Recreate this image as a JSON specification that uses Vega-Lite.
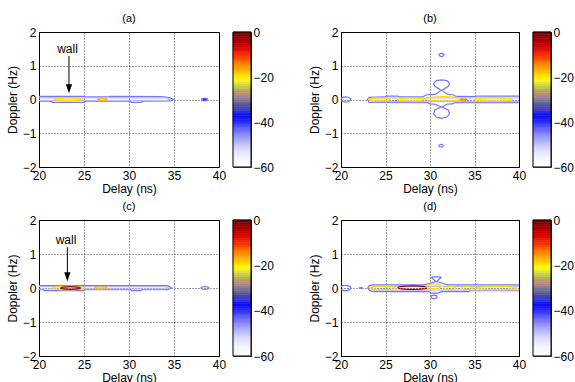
{
"$schema":"https://vega.github.io/schema/vega-lite/v6.json",
"padding":{"left":5,"top":12,"right":0,"bottom":0},
"background":"white",
"config":{
 "font":"Liberation Sans",
 "view":{"stroke":"#000","strokeWidth":1},
 "axis":{"labelFont":"Liberation Sans","labelFontSize":12,"labelColor":"#000","titleFont":"Liberation Sans","titleFontSize":12,"titleFontWeight":"normal","titleColor":"#000","domain":false,"ticks":false,"labelFlush":false,"grid":true,"gridColor":"#000","gridDash":[1,2],"gridOpacity":0.75,"labelPadding":3,"titlePadding":3},
 "axisX":{"titlePadding":2},
 "title":{"font":"Liberation Sans","fontSize":11,"fontWeight":"normal","color":"#000","offset":2}
},
"datasets":{
"ct":[
{"p":"a","id":"a1","k":"b","lv":-44,"i":0,"x":19.5,"y":0.09},
{"p":"a","id":"a1","k":"b","lv":-44,"i":1,"x":25.0,"y":0.09},
{"p":"a","id":"a1","k":"b","lv":-44,"i":2,"x":25.3,"y":0.075},
{"p":"a","id":"a1","k":"b","lv":-44,"i":3,"x":27.6,"y":0.075},
{"p":"a","id":"a1","k":"b","lv":-44,"i":4,"x":27.9,"y":0.09},
{"p":"a","id":"a1","k":"b","lv":-44,"i":5,"x":33.6,"y":0.085},
{"p":"a","id":"a1","k":"b","lv":-44,"i":6,"x":34.6,"y":0.05},
{"p":"a","id":"a1","k":"b","lv":-44,"i":7,"x":34.95,"y":0},
{"p":"a","id":"a1","k":"b","lv":-44,"i":8,"x":34.6,"y":-0.045},
{"p":"a","id":"a1","k":"b","lv":-44,"i":9,"x":31.5,"y":-0.05},
{"p":"a","id":"a1","k":"b","lv":-44,"i":10,"x":31.3,"y":-0.085},
{"p":"a","id":"a1","k":"b","lv":-44,"i":11,"x":30.3,"y":-0.085},
{"p":"a","id":"a1","k":"b","lv":-44,"i":12,"x":30.1,"y":-0.05},
{"p":"a","id":"a1","k":"b","lv":-44,"i":13,"x":25.2,"y":-0.05},
{"p":"a","id":"a1","k":"b","lv":-44,"i":14,"x":25.0,"y":-0.085},
{"p":"a","id":"a1","k":"b","lv":-44,"i":15,"x":21.5,"y":-0.085},
{"p":"a","id":"a1","k":"b","lv":-44,"i":16,"x":21.3,"y":-0.05},
{"p":"a","id":"a1","k":"b","lv":-44,"i":17,"x":19.5,"y":-0.05},
{"p":"a","id":"a2","k":"b","lv":-49,"i":0,"x":19.5,"y":0.05},
{"p":"a","id":"a2","k":"b","lv":-49,"i":1,"x":34.2,"y":0.045},
{"p":"a","id":"a2","k":"b","lv":-49,"i":2,"x":34.6,"y":0},
{"p":"a","id":"a2","k":"b","lv":-49,"i":3,"x":34.2,"y":-0.03},
{"p":"a","id":"a2","k":"b","lv":-49,"i":4,"x":19.5,"y":-0.03},
{"p":"a","id":"a3","k":"e","lv":-19,"i":0,"x":24.8,"y":0},
{"p":"a","id":"a3","k":"e","lv":-19,"i":1,"x":24.335,"y":0.028},
{"p":"a","id":"a3","k":"e","lv":-19,"i":2,"x":23.25,"y":0.04},
{"p":"a","id":"a3","k":"e","lv":-19,"i":3,"x":22.165,"y":0.028},
{"p":"a","id":"a3","k":"e","lv":-19,"i":4,"x":21.7,"y":0},
{"p":"a","id":"a3","k":"e","lv":-19,"i":5,"x":22.165,"y":-0.028},
{"p":"a","id":"a3","k":"e","lv":-19,"i":6,"x":23.25,"y":-0.04},
{"p":"a","id":"a3","k":"e","lv":-19,"i":7,"x":24.335,"y":-0.028},
{"p":"a","id":"a4","k":"e","lv":-17,"i":0,"x":27.6,"y":0},
{"p":"a","id":"a4","k":"e","lv":-17,"i":1,"x":27.435,"y":0.021},
{"p":"a","id":"a4","k":"e","lv":-17,"i":2,"x":27.05,"y":0.03},
{"p":"a","id":"a4","k":"e","lv":-17,"i":3,"x":26.665,"y":0.021},
{"p":"a","id":"a4","k":"e","lv":-17,"i":4,"x":26.5,"y":0},
{"p":"a","id":"a4","k":"e","lv":-17,"i":5,"x":26.665,"y":-0.021},
{"p":"a","id":"a4","k":"e","lv":-17,"i":6,"x":27.05,"y":-0.03},
{"p":"a","id":"a4","k":"e","lv":-17,"i":7,"x":27.435,"y":-0.021},
{"p":"a","id":"a5","k":"e","lv":-44,"i":0,"x":38.75,"y":0},
{"p":"a","id":"a5","k":"e","lv":-44,"i":1,"x":38.645,"y":0.025},
{"p":"a","id":"a5","k":"e","lv":-44,"i":2,"x":38.4,"y":0.035},
{"p":"a","id":"a5","k":"e","lv":-44,"i":3,"x":38.155,"y":0.025},
{"p":"a","id":"a5","k":"e","lv":-44,"i":4,"x":38.05,"y":0},
{"p":"a","id":"a5","k":"e","lv":-44,"i":5,"x":38.155,"y":-0.025},
{"p":"a","id":"a5","k":"e","lv":-44,"i":6,"x":38.4,"y":-0.035},
{"p":"a","id":"a5","k":"e","lv":-44,"i":7,"x":38.645,"y":-0.025},
{"p":"a","id":"a6","k":"e","lv":-40,"i":0,"x":38.55,"y":0},
{"p":"a","id":"a6","k":"e","lv":-40,"i":1,"x":38.505,"y":0.011},
{"p":"a","id":"a6","k":"e","lv":-40,"i":2,"x":38.4,"y":0.015},
{"p":"a","id":"a6","k":"e","lv":-40,"i":3,"x":38.295,"y":0.011},
{"p":"a","id":"a6","k":"e","lv":-40,"i":4,"x":38.25,"y":0},
{"p":"a","id":"a6","k":"e","lv":-40,"i":5,"x":38.295,"y":-0.011},
{"p":"a","id":"a6","k":"e","lv":-40,"i":6,"x":38.4,"y":-0.015},
{"p":"a","id":"a6","k":"e","lv":-40,"i":7,"x":38.505,"y":-0.011},

{"p":"c","id":"c1","k":"b","lv":-44,"i":0,"x":19.5,"y":0.07},
{"p":"c","id":"c1","k":"b","lv":-44,"i":1,"x":34.3,"y":0.07},
{"p":"c","id":"c1","k":"b","lv":-44,"i":2,"x":34.75,"y":0},
{"p":"c","id":"c1","k":"b","lv":-44,"i":3,"x":34.3,"y":-0.05},
{"p":"c","id":"c1","k":"b","lv":-44,"i":4,"x":31.4,"y":-0.05},
{"p":"c","id":"c1","k":"b","lv":-44,"i":5,"x":31.3,"y":-0.08},
{"p":"c","id":"c1","k":"b","lv":-44,"i":6,"x":30.3,"y":-0.08},
{"p":"c","id":"c1","k":"b","lv":-44,"i":7,"x":30.2,"y":-0.05},
{"p":"c","id":"c1","k":"b","lv":-44,"i":8,"x":25.0,"y":-0.05},
{"p":"c","id":"c1","k":"b","lv":-44,"i":9,"x":24.9,"y":-0.08},
{"p":"c","id":"c1","k":"b","lv":-44,"i":10,"x":20.6,"y":-0.08},
{"p":"c","id":"c1","k":"b","lv":-44,"i":11,"x":20.5,"y":-0.05},
{"p":"c","id":"c1","k":"b","lv":-44,"i":12,"x":19.5,"y":-0.05},
{"p":"c","id":"c2","k":"b","lv":-49,"i":0,"x":19.5,"y":0.04},
{"p":"c","id":"c2","k":"b","lv":-49,"i":1,"x":34.0,"y":0.04},
{"p":"c","id":"c2","k":"b","lv":-49,"i":2,"x":34.4,"y":0},
{"p":"c","id":"c2","k":"b","lv":-49,"i":3,"x":34.0,"y":-0.03},
{"p":"c","id":"c2","k":"b","lv":-49,"i":4,"x":19.5,"y":-0.03},
{"p":"c","id":"c3","k":"e","lv":-19,"i":0,"x":24.85,"y":0},
{"p":"c","id":"c3","k":"e","lv":-19,"i":1,"x":24.355,"y":0.039},
{"p":"c","id":"c3","k":"e","lv":-19,"i":2,"x":23.2,"y":0.055},
{"p":"c","id":"c3","k":"e","lv":-19,"i":3,"x":22.045,"y":0.039},
{"p":"c","id":"c3","k":"e","lv":-19,"i":4,"x":21.55,"y":0},
{"p":"c","id":"c3","k":"e","lv":-19,"i":5,"x":22.045,"y":-0.039},
{"p":"c","id":"c3","k":"e","lv":-19,"i":6,"x":23.2,"y":-0.055},
{"p":"c","id":"c3","k":"e","lv":-19,"i":7,"x":24.355,"y":-0.039},
{"p":"c","id":"c4","k":"e","lv":-2,"i":0,"x":24.6,"y":0},
{"p":"c","id":"c4","k":"e","lv":-2,"i":1,"x":24.27,"y":0.028},
{"p":"c","id":"c4","k":"e","lv":-2,"i":2,"x":23.5,"y":0.04},
{"p":"c","id":"c4","k":"e","lv":-2,"i":3,"x":22.73,"y":0.028},
{"p":"c","id":"c4","k":"e","lv":-2,"i":4,"x":22.4,"y":0},
{"p":"c","id":"c4","k":"e","lv":-2,"i":5,"x":22.73,"y":-0.028},
{"p":"c","id":"c4","k":"e","lv":-2,"i":6,"x":23.5,"y":-0.04},
{"p":"c","id":"c4","k":"e","lv":-2,"i":7,"x":24.27,"y":-0.028},
{"p":"c","id":"c5","k":"e","lv":-17,"i":0,"x":27.55,"y":0},
{"p":"c","id":"c5","k":"e","lv":-17,"i":1,"x":27.34,"y":0.025},
{"p":"c","id":"c5","k":"e","lv":-17,"i":2,"x":26.85,"y":0.035},
{"p":"c","id":"c5","k":"e","lv":-17,"i":3,"x":26.36,"y":0.025},
{"p":"c","id":"c5","k":"e","lv":-17,"i":4,"x":26.15,"y":0},
{"p":"c","id":"c5","k":"e","lv":-17,"i":5,"x":26.36,"y":-0.025},
{"p":"c","id":"c5","k":"e","lv":-17,"i":6,"x":26.85,"y":-0.035},
{"p":"c","id":"c5","k":"e","lv":-17,"i":7,"x":27.34,"y":-0.025},
{"p":"c","id":"c6","k":"e","lv":-44,"i":0,"x":38.9,"y":0},
{"p":"c","id":"c6","k":"e","lv":-44,"i":1,"x":38.765,"y":0.028},
{"p":"c","id":"c6","k":"e","lv":-44,"i":2,"x":38.45,"y":0.04},
{"p":"c","id":"c6","k":"e","lv":-44,"i":3,"x":38.135,"y":0.028},
{"p":"c","id":"c6","k":"e","lv":-44,"i":4,"x":38.0,"y":0},
{"p":"c","id":"c6","k":"e","lv":-44,"i":5,"x":38.135,"y":-0.028},
{"p":"c","id":"c6","k":"e","lv":-44,"i":6,"x":38.45,"y":-0.04},
{"p":"c","id":"c6","k":"e","lv":-44,"i":7,"x":38.765,"y":-0.028},

{"p":"b","id":"b1","k":"b","lv":-44,"i":0,"x":22.96,"y":0},
{"p":"b","id":"b1","k":"b","lv":-44,"i":1,"x":23.15,"y":0.065},
{"p":"b","id":"b1","k":"b","lv":-44,"i":2,"x":24.8,"y":0.075},
{"p":"b","id":"b1","k":"b","lv":-44,"i":3,"x":25.1,"y":0.1},
{"p":"b","id":"b1","k":"b","lv":-44,"i":4,"x":26.4,"y":0.1},
{"p":"b","id":"b1","k":"b","lv":-44,"i":5,"x":26.6,"y":0.075},
{"p":"b","id":"b1","k":"b","lv":-44,"i":6,"x":29.2,"y":0.08},
{"p":"b","id":"b1","k":"b","lv":-44,"i":7,"x":29.6,"y":0.14},
{"p":"b","id":"b1","k":"b","lv":-44,"i":8,"x":30.6,"y":0.15},
{"p":"b","id":"b1","k":"b","lv":-44,"i":9,"x":31.25,"y":0.27},
{"p":"b","id":"b1","k":"b","lv":-44,"i":10,"x":30.55,"y":0.39},
{"p":"b","id":"b1","k":"b","lv":-44,"i":11,"x":30.4,"y":0.48},
{"p":"b","id":"b1","k":"b","lv":-44,"i":12,"x":30.7,"y":0.56},
{"p":"b","id":"b1","k":"b","lv":-44,"i":13,"x":31.3,"y":0.58},
{"p":"b","id":"b1","k":"b","lv":-44,"i":14,"x":31.9,"y":0.56},
{"p":"b","id":"b1","k":"b","lv":-44,"i":15,"x":32.2,"y":0.48},
{"p":"b","id":"b1","k":"b","lv":-44,"i":16,"x":32.05,"y":0.39},
{"p":"b","id":"b1","k":"b","lv":-44,"i":17,"x":31.35,"y":0.27},
{"p":"b","id":"b1","k":"b","lv":-44,"i":18,"x":32.0,"y":0.15},
{"p":"b","id":"b1","k":"b","lv":-44,"i":19,"x":32.6,"y":0.14},
{"p":"b","id":"b1","k":"b","lv":-44,"i":20,"x":32.9,"y":0.09},
{"p":"b","id":"b1","k":"b","lv":-44,"i":21,"x":35.0,"y":0.085},
{"p":"b","id":"b1","k":"b","lv":-44,"i":22,"x":35.3,"y":0.1},
{"p":"b","id":"b1","k":"b","lv":-44,"i":23,"x":40.5,"y":0.1},
{"p":"b","id":"b1","k":"b","lv":-44,"i":24,"x":40.5,"y":-0.09},
{"p":"b","id":"b1","k":"b","lv":-44,"i":25,"x":32.8,"y":-0.095},
{"p":"b","id":"b1","k":"b","lv":-44,"i":26,"x":32.5,"y":-0.13},
{"p":"b","id":"b1","k":"b","lv":-44,"i":27,"x":31.9,"y":-0.14},
{"p":"b","id":"b1","k":"b","lv":-44,"i":28,"x":31.35,"y":-0.22},
{"p":"b","id":"b1","k":"b","lv":-44,"i":29,"x":32.05,"y":-0.31},
{"p":"b","id":"b1","k":"b","lv":-44,"i":30,"x":32.2,"y":-0.42},
{"p":"b","id":"b1","k":"b","lv":-44,"i":31,"x":31.9,"y":-0.52},
{"p":"b","id":"b1","k":"b","lv":-44,"i":32,"x":31.3,"y":-0.56},
{"p":"b","id":"b1","k":"b","lv":-44,"i":33,"x":30.7,"y":-0.52},
{"p":"b","id":"b1","k":"b","lv":-44,"i":34,"x":30.4,"y":-0.42},
{"p":"b","id":"b1","k":"b","lv":-44,"i":35,"x":30.55,"y":-0.31},
{"p":"b","id":"b1","k":"b","lv":-44,"i":36,"x":31.25,"y":-0.22},
{"p":"b","id":"b1","k":"b","lv":-44,"i":37,"x":30.6,"y":-0.14},
{"p":"b","id":"b1","k":"b","lv":-44,"i":38,"x":30.0,"y":-0.13},
{"p":"b","id":"b1","k":"b","lv":-44,"i":39,"x":29.7,"y":-0.095},
{"p":"b","id":"b1","k":"b","lv":-44,"i":40,"x":23.15,"y":-0.085},
{"p":"b","id":"b2","k":"b","lv":-49,"i":0,"x":23.3,"y":0},
{"p":"b","id":"b2","k":"b","lv":-49,"i":1,"x":23.6,"y":0.045},
{"p":"b","id":"b2","k":"b","lv":-49,"i":2,"x":40.5,"y":0.045},
{"p":"b","id":"b2","k":"b","lv":-49,"i":3,"x":40.5,"y":-0.06},
{"p":"b","id":"b2","k":"b","lv":-49,"i":4,"x":23.6,"y":-0.06},
{"p":"b","id":"b3","k":"e","lv":-44,"i":0,"x":21.09,"y":0},
{"p":"b","id":"b3","k":"e","lv":-44,"i":1,"x":20.922,"y":0.0525},
{"p":"b","id":"b3","k":"e","lv":-44,"i":2,"x":20.53,"y":0.075},
{"p":"b","id":"b3","k":"e","lv":-44,"i":3,"x":20.138,"y":0.0525},
{"p":"b","id":"b3","k":"e","lv":-44,"i":4,"x":19.97,"y":0},
{"p":"b","id":"b3","k":"e","lv":-44,"i":5,"x":20.138,"y":-0.0525},
{"p":"b","id":"b3","k":"e","lv":-44,"i":6,"x":20.53,"y":-0.075},
{"p":"b","id":"b3","k":"e","lv":-44,"i":7,"x":20.922,"y":-0.0525},
{"p":"b","id":"b4","k":"e","lv":-19,"i":0,"x":25.5,"y":0},
{"p":"b","id":"b4","k":"e","lv":-19,"i":1,"x":25.14,"y":0.0315},
{"p":"b","id":"b4","k":"e","lv":-19,"i":2,"x":24.3,"y":0.045},
{"p":"b","id":"b4","k":"e","lv":-19,"i":3,"x":23.46,"y":0.0315},
{"p":"b","id":"b4","k":"e","lv":-19,"i":4,"x":23.1,"y":0},
{"p":"b","id":"b4","k":"e","lv":-19,"i":5,"x":23.46,"y":-0.0315},
{"p":"b","id":"b4","k":"e","lv":-19,"i":6,"x":24.3,"y":-0.045},
{"p":"b","id":"b4","k":"e","lv":-19,"i":7,"x":25.14,"y":-0.0315},
{"p":"b","id":"b5","k":"e","lv":-19,"i":0,"x":29.3,"y":0},
{"p":"b","id":"b5","k":"e","lv":-19,"i":1,"x":28.85,"y":0.035},
{"p":"b","id":"b5","k":"e","lv":-19,"i":2,"x":27.8,"y":0.05},
{"p":"b","id":"b5","k":"e","lv":-19,"i":3,"x":26.75,"y":0.035},
{"p":"b","id":"b5","k":"e","lv":-19,"i":4,"x":26.3,"y":0},
{"p":"b","id":"b5","k":"e","lv":-19,"i":5,"x":26.75,"y":-0.035},
{"p":"b","id":"b5","k":"e","lv":-19,"i":6,"x":27.8,"y":-0.05},
{"p":"b","id":"b5","k":"e","lv":-19,"i":7,"x":28.85,"y":-0.035},
{"p":"b","id":"b6","k":"e","lv":-19,"i":0,"x":33.6,"y":0.02},
{"p":"b","id":"b6","k":"e","lv":-19,"i":1,"x":32.97,"y":0.0655},
{"p":"b","id":"b6","k":"e","lv":-19,"i":2,"x":31.5,"y":0.085},
{"p":"b","id":"b6","k":"e","lv":-19,"i":3,"x":30.03,"y":0.0655},
{"p":"b","id":"b6","k":"e","lv":-19,"i":4,"x":29.4,"y":0.02},
{"p":"b","id":"b6","k":"e","lv":-19,"i":5,"x":30.03,"y":-0.0255},
{"p":"b","id":"b6","k":"e","lv":-19,"i":6,"x":31.5,"y":-0.045},
{"p":"b","id":"b6","k":"e","lv":-19,"i":7,"x":32.97,"y":-0.0255},
{"p":"b","id":"b7","k":"e","lv":-19,"i":0,"x":39.25,"y":0},
{"p":"b","id":"b7","k":"e","lv":-19,"i":1,"x":38.605,"y":0.035},
{"p":"b","id":"b7","k":"e","lv":-19,"i":2,"x":37.1,"y":0.05},
{"p":"b","id":"b7","k":"e","lv":-19,"i":3,"x":35.595,"y":0.035},
{"p":"b","id":"b7","k":"e","lv":-19,"i":4,"x":34.95,"y":0},
{"p":"b","id":"b7","k":"e","lv":-19,"i":5,"x":35.595,"y":-0.035},
{"p":"b","id":"b7","k":"e","lv":-19,"i":6,"x":37.1,"y":-0.05},
{"p":"b","id":"b7","k":"e","lv":-19,"i":7,"x":38.605,"y":-0.035},
{"p":"b","id":"b8","k":"e","lv":-15,"i":0,"x":34.2,"y":0},
{"p":"b","id":"b8","k":"e","lv":-15,"i":1,"x":34.08,"y":0.014},
{"p":"b","id":"b8","k":"e","lv":-15,"i":2,"x":33.8,"y":0.02},
{"p":"b","id":"b8","k":"e","lv":-15,"i":3,"x":33.52,"y":0.014},
{"p":"b","id":"b8","k":"e","lv":-15,"i":4,"x":33.4,"y":0},
{"p":"b","id":"b8","k":"e","lv":-15,"i":5,"x":33.52,"y":-0.014},
{"p":"b","id":"b8","k":"e","lv":-15,"i":6,"x":33.8,"y":-0.02},
{"p":"b","id":"b8","k":"e","lv":-15,"i":7,"x":34.08,"y":-0.014},
{"p":"b","id":"b9","k":"e","lv":-44,"i":0,"x":31.58,"y":1.32},
{"p":"b","id":"b9","k":"e","lv":-44,"i":1,"x":31.496,"y":1.3515},
{"p":"b","id":"b9","k":"e","lv":-44,"i":2,"x":31.3,"y":1.365},
{"p":"b","id":"b9","k":"e","lv":-44,"i":3,"x":31.104,"y":1.3515},
{"p":"b","id":"b9","k":"e","lv":-44,"i":4,"x":31.02,"y":1.32},
{"p":"b","id":"b9","k":"e","lv":-44,"i":5,"x":31.104,"y":1.2885},
{"p":"b","id":"b9","k":"e","lv":-44,"i":6,"x":31.3,"y":1.275},
{"p":"b","id":"b9","k":"e","lv":-44,"i":7,"x":31.496,"y":1.2885},
{"p":"b","id":"b10","k":"e","lv":-44,"i":0,"x":31.5,"y":-1.37},
{"p":"b","id":"b10","k":"e","lv":-44,"i":1,"x":31.425,"y":-1.342},
{"p":"b","id":"b10","k":"e","lv":-44,"i":2,"x":31.25,"y":-1.33},
{"p":"b","id":"b10","k":"e","lv":-44,"i":3,"x":31.075,"y":-1.342},
{"p":"b","id":"b10","k":"e","lv":-44,"i":4,"x":31.0,"y":-1.37},
{"p":"b","id":"b10","k":"e","lv":-44,"i":5,"x":31.075,"y":-1.398},
{"p":"b","id":"b10","k":"e","lv":-44,"i":6,"x":31.25,"y":-1.41},
{"p":"b","id":"b10","k":"e","lv":-44,"i":7,"x":31.425,"y":-1.398},

{"p":"d","id":"d1","k":"b","lv":-44,"i":0,"x":23.0,"y":0},
{"p":"d","id":"d1","k":"b","lv":-44,"i":1,"x":23.2,"y":0.07},
{"p":"d","id":"d1","k":"b","lv":-44,"i":2,"x":23.6,"y":0.09},
{"p":"d","id":"d1","k":"b","lv":-44,"i":3,"x":29.3,"y":0.09},
{"p":"d","id":"d1","k":"b","lv":-44,"i":4,"x":29.9,"y":0.13},
{"p":"d","id":"d1","k":"b","lv":-44,"i":5,"x":30.65,"y":0.19},
{"p":"d","id":"d1","k":"b","lv":-44,"i":6,"x":30.15,"y":0.31},
{"p":"d","id":"d1","k":"b","lv":-44,"i":7,"x":30.25,"y":0.33},
{"p":"d","id":"d1","k":"b","lv":-44,"i":8,"x":31.15,"y":0.33},
{"p":"d","id":"d1","k":"b","lv":-44,"i":9,"x":31.25,"y":0.31},
{"p":"d","id":"d1","k":"b","lv":-44,"i":10,"x":30.75,"y":0.19},
{"p":"d","id":"d1","k":"b","lv":-44,"i":11,"x":31.6,"y":0.12},
{"p":"d","id":"d1","k":"b","lv":-44,"i":12,"x":32.0,"y":0.09},
{"p":"d","id":"d1","k":"b","lv":-44,"i":13,"x":40.5,"y":0.09},
{"p":"d","id":"d1","k":"b","lv":-44,"i":14,"x":40.5,"y":-0.08},
{"p":"d","id":"d1","k":"b","lv":-44,"i":15,"x":34.6,"y":-0.08},
{"p":"d","id":"d1","k":"b","lv":-44,"i":16,"x":34.3,"y":-0.105},
{"p":"d","id":"d1","k":"b","lv":-44,"i":17,"x":31.3,"y":-0.105},
{"p":"d","id":"d1","k":"b","lv":-44,"i":18,"x":30.9,"y":-0.15},
{"p":"d","id":"d1","k":"b","lv":-44,"i":19,"x":30.2,"y":-0.15},
{"p":"d","id":"d1","k":"b","lv":-44,"i":20,"x":29.8,"y":-0.105},
{"p":"d","id":"d1","k":"b","lv":-44,"i":21,"x":23.6,"y":-0.105},
{"p":"d","id":"d1","k":"b","lv":-44,"i":22,"x":23.2,"y":-0.07},
{"p":"d","id":"d2","k":"b","lv":-49,"i":0,"x":23.4,"y":0},
{"p":"d","id":"d2","k":"b","lv":-49,"i":1,"x":23.7,"y":0.05},
{"p":"d","id":"d2","k":"b","lv":-49,"i":2,"x":40.5,"y":0.05},
{"p":"d","id":"d2","k":"b","lv":-49,"i":3,"x":40.5,"y":-0.06},
{"p":"d","id":"d2","k":"b","lv":-49,"i":4,"x":23.7,"y":-0.06},
{"p":"d","id":"d3","k":"e","lv":-44,"i":0,"x":21.1,"y":0},
{"p":"d","id":"d3","k":"e","lv":-44,"i":1,"x":20.92,"y":0.056},
{"p":"d","id":"d3","k":"e","lv":-44,"i":2,"x":20.5,"y":0.08},
{"p":"d","id":"d3","k":"e","lv":-44,"i":3,"x":20.08,"y":0.056},
{"p":"d","id":"d3","k":"e","lv":-44,"i":4,"x":19.9,"y":0},
{"p":"d","id":"d3","k":"e","lv":-44,"i":5,"x":20.08,"y":-0.056},
{"p":"d","id":"d3","k":"e","lv":-44,"i":6,"x":20.5,"y":-0.08},
{"p":"d","id":"d3","k":"e","lv":-44,"i":7,"x":20.92,"y":-0.056},
{"p":"d","id":"d4","k":"e","lv":-44,"i":0,"x":22.45,"y":0},
{"p":"d","id":"d4","k":"e","lv":-44,"i":1,"x":22.39,"y":0.0084},
{"p":"d","id":"d4","k":"e","lv":-44,"i":2,"x":22.25,"y":0.012},
{"p":"d","id":"d4","k":"e","lv":-44,"i":3,"x":22.11,"y":0.0084},
{"p":"d","id":"d4","k":"e","lv":-44,"i":4,"x":22.05,"y":0},
{"p":"d","id":"d4","k":"e","lv":-44,"i":5,"x":22.11,"y":-0.0084},
{"p":"d","id":"d4","k":"e","lv":-44,"i":6,"x":22.25,"y":-0.012},
{"p":"d","id":"d4","k":"e","lv":-44,"i":7,"x":22.39,"y":-0.0084},
{"p":"d","id":"d5","k":"e","lv":-19,"i":0,"x":26.2,"y":0},
{"p":"d","id":"d5","k":"e","lv":-19,"i":1,"x":25.75,"y":0.035},
{"p":"d","id":"d5","k":"e","lv":-19,"i":2,"x":24.7,"y":0.05},
{"p":"d","id":"d5","k":"e","lv":-19,"i":3,"x":23.65,"y":0.035},
{"p":"d","id":"d5","k":"e","lv":-19,"i":4,"x":23.2,"y":0},
{"p":"d","id":"d5","k":"e","lv":-19,"i":5,"x":23.65,"y":-0.035},
{"p":"d","id":"d5","k":"e","lv":-19,"i":6,"x":24.7,"y":-0.05},
{"p":"d","id":"d5","k":"e","lv":-19,"i":7,"x":25.75,"y":-0.035},
{"p":"d","id":"d6","k":"e","lv":-2,"i":0,"x":29.7,"y":0.01},
{"p":"d","id":"d6","k":"e","lv":-2,"i":1,"x":29.205,"y":0.045},
{"p":"d","id":"d6","k":"e","lv":-2,"i":2,"x":28.05,"y":0.06},
{"p":"d","id":"d6","k":"e","lv":-2,"i":3,"x":26.895,"y":0.045},
{"p":"d","id":"d6","k":"e","lv":-2,"i":4,"x":26.4,"y":0.01},
{"p":"d","id":"d6","k":"e","lv":-2,"i":5,"x":26.895,"y":-0.025},
{"p":"d","id":"d6","k":"e","lv":-2,"i":6,"x":28.05,"y":-0.04},
{"p":"d","id":"d6","k":"e","lv":-2,"i":7,"x":29.205,"y":-0.025},
{"p":"d","id":"d7","k":"e","lv":-19,"i":0,"x":31.25,"y":0.05},
{"p":"d","id":"d7","k":"e","lv":-19,"i":1,"x":30.995,"y":0.099},
{"p":"d","id":"d7","k":"e","lv":-19,"i":2,"x":30.4,"y":0.12},
{"p":"d","id":"d7","k":"e","lv":-19,"i":3,"x":29.805,"y":0.099},
{"p":"d","id":"d7","k":"e","lv":-19,"i":4,"x":29.55,"y":0.05},
{"p":"d","id":"d7","k":"e","lv":-19,"i":5,"x":29.805,"y":0.001},
{"p":"d","id":"d7","k":"e","lv":-19,"i":6,"x":30.4,"y":-0.02},
{"p":"d","id":"d7","k":"e","lv":-19,"i":7,"x":30.995,"y":0.001},
{"p":"d","id":"d8","k":"e","lv":-19,"i":0,"x":32.9,"y":0},
{"p":"d","id":"d8","k":"e","lv":-19,"i":1,"x":32.705,"y":0.0315},
{"p":"d","id":"d8","k":"e","lv":-19,"i":2,"x":32.25,"y":0.045},
{"p":"d","id":"d8","k":"e","lv":-19,"i":3,"x":31.795,"y":0.0315},
{"p":"d","id":"d8","k":"e","lv":-19,"i":4,"x":31.6,"y":0},
{"p":"d","id":"d8","k":"e","lv":-19,"i":5,"x":31.795,"y":-0.0315},
{"p":"d","id":"d8","k":"e","lv":-19,"i":6,"x":32.25,"y":-0.045},
{"p":"d","id":"d8","k":"e","lv":-19,"i":7,"x":32.705,"y":-0.0315},
{"p":"d","id":"d9","k":"e","lv":-19,"i":0,"x":34.8,"y":0},
{"p":"d","id":"d9","k":"e","lv":-19,"i":1,"x":34.605,"y":0.0315},
{"p":"d","id":"d9","k":"e","lv":-19,"i":2,"x":34.15,"y":0.045},
{"p":"d","id":"d9","k":"e","lv":-19,"i":3,"x":33.695,"y":0.0315},
{"p":"d","id":"d9","k":"e","lv":-19,"i":4,"x":33.5,"y":0},
{"p":"d","id":"d9","k":"e","lv":-19,"i":5,"x":33.695,"y":-0.0315},
{"p":"d","id":"d9","k":"e","lv":-19,"i":6,"x":34.15,"y":-0.045},
{"p":"d","id":"d9","k":"e","lv":-19,"i":7,"x":34.605,"y":-0.0315},
{"p":"d","id":"d10","k":"e","lv":-19,"i":0,"x":39.8,"y":0},
{"p":"d","id":"d10","k":"e","lv":-19,"i":1,"x":39.11,"y":0.035},
{"p":"d","id":"d10","k":"e","lv":-19,"i":2,"x":37.5,"y":0.05},
{"p":"d","id":"d10","k":"e","lv":-19,"i":3,"x":35.89,"y":0.035},
{"p":"d","id":"d10","k":"e","lv":-19,"i":4,"x":35.2,"y":0},
{"p":"d","id":"d10","k":"e","lv":-19,"i":5,"x":35.89,"y":-0.035},
{"p":"d","id":"d10","k":"e","lv":-19,"i":6,"x":37.5,"y":-0.05},
{"p":"d","id":"d10","k":"e","lv":-19,"i":7,"x":39.11,"y":-0.035},
{"p":"d","id":"d11","k":"e","lv":-44,"i":0,"x":30.8,"y":-0.26},
{"p":"d","id":"d11","k":"e","lv":-44,"i":1,"x":30.695,"y":-0.225},
{"p":"d","id":"d11","k":"e","lv":-44,"i":2,"x":30.45,"y":-0.21},
{"p":"d","id":"d11","k":"e","lv":-44,"i":3,"x":30.205,"y":-0.225},
{"p":"d","id":"d11","k":"e","lv":-44,"i":4,"x":30.1,"y":-0.26},
{"p":"d","id":"d11","k":"e","lv":-44,"i":5,"x":30.205,"y":-0.295},
{"p":"d","id":"d11","k":"e","lv":-44,"i":6,"x":30.45,"y":-0.31},
{"p":"d","id":"d11","k":"e","lv":-44,"i":7,"x":30.695,"y":-0.295}
],
"cb":[
{"lo":-60,"hi":-59,"v":-59.5},{"lo":-59,"hi":-58,"v":-58.5},{"lo":-58,"hi":-57,"v":-57.5},{"lo":-57,"hi":-56,"v":-56.5},{"lo":-56,"hi":-55,"v":-55.5},
{"lo":-55,"hi":-54,"v":-54.5},{"lo":-54,"hi":-53,"v":-53.5},{"lo":-53,"hi":-52,"v":-52.5},{"lo":-52,"hi":-51,"v":-51.5},{"lo":-51,"hi":-50,"v":-50.5},
{"lo":-50,"hi":-49,"v":-49.5},{"lo":-49,"hi":-48,"v":-48.5},{"lo":-48,"hi":-47,"v":-47.5},{"lo":-47,"hi":-46,"v":-46.5},{"lo":-46,"hi":-45,"v":-45.5},
{"lo":-45,"hi":-44,"v":-44.5},{"lo":-44,"hi":-43,"v":-43.5},{"lo":-43,"hi":-42,"v":-42.5},{"lo":-42,"hi":-41,"v":-41.5},{"lo":-41,"hi":-40,"v":-40.5},
{"lo":-40,"hi":-39,"v":-39.5},{"lo":-39,"hi":-38,"v":-38.5},{"lo":-38,"hi":-37,"v":-37.5},{"lo":-37,"hi":-36,"v":-36.5},{"lo":-36,"hi":-35,"v":-35.5},
{"lo":-35,"hi":-34,"v":-34.5},{"lo":-34,"hi":-33,"v":-33.5},{"lo":-33,"hi":-32,"v":-32.5},{"lo":-32,"hi":-31,"v":-31.5},{"lo":-31,"hi":-30,"v":-30.5},
{"lo":-30,"hi":-29,"v":-29.5},{"lo":-29,"hi":-28,"v":-28.5},{"lo":-28,"hi":-27,"v":-27.5},{"lo":-27,"hi":-26,"v":-26.5},{"lo":-26,"hi":-25,"v":-25.5},
{"lo":-25,"hi":-24,"v":-24.5},{"lo":-24,"hi":-23,"v":-23.5},{"lo":-23,"hi":-22,"v":-22.5},{"lo":-22,"hi":-21,"v":-21.5},{"lo":-21,"hi":-20,"v":-20.5},
{"lo":-20,"hi":-19,"v":-19.5},{"lo":-19,"hi":-18,"v":-18.5},{"lo":-18,"hi":-17,"v":-17.5},{"lo":-17,"hi":-16,"v":-16.5},{"lo":-16,"hi":-15,"v":-15.5},
{"lo":-15,"hi":-14,"v":-14.5},{"lo":-14,"hi":-13,"v":-13.5},{"lo":-13,"hi":-12,"v":-12.5},{"lo":-12,"hi":-11,"v":-11.5},{"lo":-11,"hi":-10,"v":-10.5},
{"lo":-10,"hi":-9,"v":-9.5},{"lo":-9,"hi":-8,"v":-8.5},{"lo":-8,"hi":-7,"v":-7.5},{"lo":-7,"hi":-6,"v":-6.5},{"lo":-6,"hi":-5,"v":-5.5},
{"lo":-5,"hi":-4,"v":-4.5},{"lo":-4,"hi":-3,"v":-3.5},{"lo":-3,"hi":-2,"v":-2.5},{"lo":-2,"hi":-1,"v":-1.5},{"lo":-1,"hi":0,"v":-0.5}
],
"frame":[{"lo":-60,"hi":0}],
"ann":[{"p":"a","x":23.17,"y":1.5,"t":"wall"},{"p":"c","x":23.0,"y":1.42,"t":"wall"}],
"arr":[{"p":"a","x":23.33,"y":1.29,"y2":0.4},{"p":"c","x":23.15,"y":1.2,"y2":0.4}],
"hd":[{"p":"a","x":23.33,"y":0.32},{"p":"c","x":23.15,"y":0.33}]
},
"columns":5,
"spacing":{"row":53,"column":14},
"bounds":"flush",
"concat":[
{"width":180,"height":135,"title":"(a)",
 "encoding":{"x":{"field":"x","type":"quantitative","title":"Delay (ns)","scale":{"domain":[20,40],"nice":false,"zero":false},"axis":{"values":[20,25,30,35,40]}},
  "y":{"field":"y","type":"quantitative","title":"Doppler (Hz)","scale":{"domain":[-2,2],"nice":false,"zero":false},"axis":{"values":[-2,-1,0,1,2]}}},
 "layer":[
  {"data":{"name":"ct"},"transform":[{"filter":"datum.p=='a' && datum.k=='b'"}],"mark":{"type":"line","interpolate":"linear-closed","clip":true,"strokeWidth":1.2},
   "encoding":{"color":{"field":"lv","type":"quantitative","legend":null,"scale":{"domain":[-60,-56,-52,-48,-44,-40,-37,-33,-30,-26,-21,-16,-11,-7,0],"range":["#ffffff","#f6f6ff","#dcdcff","#acacff","#7474ff","#2a2aff","#0000ff","#4a4aa8","#7e7e86","#aaaa5a","#ffff00","#ffa200","#ff3800","#dc0000","#780000"]}},"detail":{"field":"id"},"order":{"field":"i","type":"quantitative"}}},
  {"data":{"name":"ct"},"transform":[{"filter":"datum.p=='a' && datum.k=='e'"}],"mark":{"type":"line","interpolate":"cardinal-closed","clip":true,"strokeWidth":1.2},
   "encoding":{"color":{"field":"lv","type":"quantitative","legend":null,"scale":{"domain":[-60,-56,-52,-48,-44,-40,-37,-33,-30,-26,-21,-16,-11,-7,0],"range":["#ffffff","#f6f6ff","#dcdcff","#acacff","#7474ff","#2a2aff","#0000ff","#4a4aa8","#7e7e86","#aaaa5a","#ffff00","#ffa200","#ff3800","#dc0000","#780000"]}},"detail":{"field":"id"},"order":{"field":"i","type":"quantitative"}}},
  {"data":{"name":"ann"},"transform":[{"filter":"datum.p=='a'"}],"mark":{"type":"text","fontSize":12,"font":"Liberation Sans","color":"#000"},"encoding":{"text":{"field":"t"}}},
  {"data":{"name":"arr"},"transform":[{"filter":"datum.p=='a'"}],"mark":{"type":"rule","color":"#000","strokeWidth":1},"encoding":{"y2":{"field":"y2"}}},
  {"data":{"name":"hd"},"transform":[{"filter":"datum.p=='a'"}],"mark":{"type":"point","shape":"M-0.7,-1L0.7,-1L0,1Z","filled":true,"color":"#000","size":80,"opacity":1}}
 ]},
{"width":18,"height":135,
 "layer":[
  {"data":{"name":"cb"},"mark":{"type":"rect","strokeWidth":0.6},
   "encoding":{"y":{"field":"lo","type":"quantitative","scale":{"domain":[-60,0],"nice":false,"zero":false},"axis":{"orient":"right","values":[0,-20,-40,-60],"grid":false,"title":null,"labelPadding":2}},"y2":{"field":"hi"},
    "color":{"field":"v","type":"quantitative","legend":null,"scale":{"domain":[-60,-56,-52,-48,-44,-40,-37,-33,-30,-26,-21,-16,-11,-7,0],"range":["#ffffff","#f6f6ff","#dcdcff","#acacff","#7474ff","#2a2aff","#0000ff","#4a4aa8","#7e7e86","#aaaa5a","#ffff00","#ffa200","#ff3800","#dc0000","#780000"]}},
    "stroke":{"field":"v","type":"quantitative","legend":null,"scale":{"domain":[-60,-56,-52,-48,-44,-40,-37,-33,-30,-26,-21,-16,-11,-7,0],"range":["#ffffff","#f6f6ff","#dcdcff","#acacff","#7474ff","#2a2aff","#0000ff","#4a4aa8","#7e7e86","#aaaa5a","#ffff00","#ffa200","#ff3800","#dc0000","#780000"]}}}},
  {"data":{"name":"frame"},"mark":{"type":"rect","filled":false,"stroke":"#000","strokeWidth":1},"encoding":{"y":{"field":"lo","type":"quantitative"},"y2":{"field":"hi"}}}
 ]},
{"width":62,"height":135,"data":{"values":[]},"mark":"point","view":{"stroke":null}},
{"width":178,"height":135,"title":"(b)",
 "encoding":{"x":{"field":"x","type":"quantitative","title":"Delay (ns)","scale":{"domain":[20,40],"nice":false,"zero":false},"axis":{"values":[20,25,30,35,40]}},
  "y":{"field":"y","type":"quantitative","title":"Doppler (Hz)","scale":{"domain":[-2,2],"nice":false,"zero":false},"axis":{"values":[-2,-1,0,1,2]}}},
 "layer":[
  {"data":{"name":"ct"},"transform":[{"filter":"datum.p=='b' && datum.k=='b'"}],"mark":{"type":"line","interpolate":"linear-closed","clip":true,"strokeWidth":1.2},
   "encoding":{"color":{"field":"lv","type":"quantitative","legend":null,"scale":{"domain":[-60,-56,-52,-48,-44,-40,-37,-33,-30,-26,-21,-16,-11,-7,0],"range":["#ffffff","#f6f6ff","#dcdcff","#acacff","#7474ff","#2a2aff","#0000ff","#4a4aa8","#7e7e86","#aaaa5a","#ffff00","#ffa200","#ff3800","#dc0000","#780000"]}},"detail":{"field":"id"},"order":{"field":"i","type":"quantitative"}}},
  {"data":{"name":"ct"},"transform":[{"filter":"datum.p=='b' && datum.k=='e'"}],"mark":{"type":"line","interpolate":"cardinal-closed","clip":true,"strokeWidth":1.2},
   "encoding":{"color":{"field":"lv","type":"quantitative","legend":null,"scale":{"domain":[-60,-56,-52,-48,-44,-40,-37,-33,-30,-26,-21,-16,-11,-7,0],"range":["#ffffff","#f6f6ff","#dcdcff","#acacff","#7474ff","#2a2aff","#0000ff","#4a4aa8","#7e7e86","#aaaa5a","#ffff00","#ffa200","#ff3800","#dc0000","#780000"]}},"detail":{"field":"id"},"order":{"field":"i","type":"quantitative"}}}
 ]},
{"width":18,"height":135,
 "layer":[
  {"data":{"name":"cb"},"mark":{"type":"rect","strokeWidth":0.6},
   "encoding":{"y":{"field":"lo","type":"quantitative","scale":{"domain":[-60,0],"nice":false,"zero":false},"axis":{"orient":"right","values":[0,-20,-40,-60],"grid":false,"title":null,"labelPadding":2}},"y2":{"field":"hi"},
    "color":{"field":"v","type":"quantitative","legend":null,"scale":{"domain":[-60,-56,-52,-48,-44,-40,-37,-33,-30,-26,-21,-16,-11,-7,0],"range":["#ffffff","#f6f6ff","#dcdcff","#acacff","#7474ff","#2a2aff","#0000ff","#4a4aa8","#7e7e86","#aaaa5a","#ffff00","#ffa200","#ff3800","#dc0000","#780000"]}},
    "stroke":{"field":"v","type":"quantitative","legend":null,"scale":{"domain":[-60,-56,-52,-48,-44,-40,-37,-33,-30,-26,-21,-16,-11,-7,0],"range":["#ffffff","#f6f6ff","#dcdcff","#acacff","#7474ff","#2a2aff","#0000ff","#4a4aa8","#7e7e86","#aaaa5a","#ffff00","#ffa200","#ff3800","#dc0000","#780000"]}}}},
  {"data":{"name":"frame"},"mark":{"type":"rect","filled":false,"stroke":"#000","strokeWidth":1},"encoding":{"y":{"field":"lo","type":"quantitative"},"y2":{"field":"hi"}}}
 ]},
{"width":180,"height":136,"title":"(c)",
 "encoding":{"x":{"field":"x","type":"quantitative","title":"Delay (ns)","scale":{"domain":[20,40],"nice":false,"zero":false},"axis":{"values":[20,25,30,35,40]}},
  "y":{"field":"y","type":"quantitative","title":"Doppler (Hz)","scale":{"domain":[-2,2],"nice":false,"zero":false},"axis":{"values":[-2,-1,0,1,2]}}},
 "layer":[
  {"data":{"name":"ct"},"transform":[{"filter":"datum.p=='c' && datum.k=='b'"}],"mark":{"type":"line","interpolate":"linear-closed","clip":true,"strokeWidth":1.2},
   "encoding":{"color":{"field":"lv","type":"quantitative","legend":null,"scale":{"domain":[-60,-56,-52,-48,-44,-40,-37,-33,-30,-26,-21,-16,-11,-7,0],"range":["#ffffff","#f6f6ff","#dcdcff","#acacff","#7474ff","#2a2aff","#0000ff","#4a4aa8","#7e7e86","#aaaa5a","#ffff00","#ffa200","#ff3800","#dc0000","#780000"]}},"detail":{"field":"id"},"order":{"field":"i","type":"quantitative"}}},
  {"data":{"name":"ct"},"transform":[{"filter":"datum.p=='c' && datum.k=='e'"}],"mark":{"type":"line","interpolate":"cardinal-closed","clip":true,"strokeWidth":1.2},
   "encoding":{"color":{"field":"lv","type":"quantitative","legend":null,"scale":{"domain":[-60,-56,-52,-48,-44,-40,-37,-33,-30,-26,-21,-16,-11,-7,0],"range":["#ffffff","#f6f6ff","#dcdcff","#acacff","#7474ff","#2a2aff","#0000ff","#4a4aa8","#7e7e86","#aaaa5a","#ffff00","#ffa200","#ff3800","#dc0000","#780000"]}},"detail":{"field":"id"},"order":{"field":"i","type":"quantitative"}}},
  {"data":{"name":"ann"},"transform":[{"filter":"datum.p=='c'"}],"mark":{"type":"text","fontSize":12,"font":"Liberation Sans","color":"#000"},"encoding":{"text":{"field":"t"}}},
  {"data":{"name":"arr"},"transform":[{"filter":"datum.p=='c'"}],"mark":{"type":"rule","color":"#000","strokeWidth":1},"encoding":{"y2":{"field":"y2"}}},
  {"data":{"name":"hd"},"transform":[{"filter":"datum.p=='c'"}],"mark":{"type":"point","shape":"M-0.7,-1L0.7,-1L0,1Z","filled":true,"color":"#000","size":80,"opacity":1}}
 ]},
{"width":18,"height":136,
 "layer":[
  {"data":{"name":"cb"},"mark":{"type":"rect","strokeWidth":0.6},
   "encoding":{"y":{"field":"lo","type":"quantitative","scale":{"domain":[-60,0],"nice":false,"zero":false},"axis":{"orient":"right","values":[0,-20,-40,-60],"grid":false,"title":null,"labelPadding":2}},"y2":{"field":"hi"},
    "color":{"field":"v","type":"quantitative","legend":null,"scale":{"domain":[-60,-56,-52,-48,-44,-40,-37,-33,-30,-26,-21,-16,-11,-7,0],"range":["#ffffff","#f6f6ff","#dcdcff","#acacff","#7474ff","#2a2aff","#0000ff","#4a4aa8","#7e7e86","#aaaa5a","#ffff00","#ffa200","#ff3800","#dc0000","#780000"]}},
    "stroke":{"field":"v","type":"quantitative","legend":null,"scale":{"domain":[-60,-56,-52,-48,-44,-40,-37,-33,-30,-26,-21,-16,-11,-7,0],"range":["#ffffff","#f6f6ff","#dcdcff","#acacff","#7474ff","#2a2aff","#0000ff","#4a4aa8","#7e7e86","#aaaa5a","#ffff00","#ffa200","#ff3800","#dc0000","#780000"]}}}},
  {"data":{"name":"frame"},"mark":{"type":"rect","filled":false,"stroke":"#000","strokeWidth":1},"encoding":{"y":{"field":"lo","type":"quantitative"},"y2":{"field":"hi"}}}
 ]},
{"width":62,"height":136,"data":{"values":[]},"mark":"point","view":{"stroke":null}},
{"width":178,"height":136,"title":"(d)",
 "encoding":{"x":{"field":"x","type":"quantitative","title":"Delay (ns)","scale":{"domain":[20,40],"nice":false,"zero":false},"axis":{"values":[20,25,30,35,40]}},
  "y":{"field":"y","type":"quantitative","title":"Doppler (Hz)","scale":{"domain":[-2,2],"nice":false,"zero":false},"axis":{"values":[-2,-1,0,1,2]}}},
 "layer":[
  {"data":{"name":"ct"},"transform":[{"filter":"datum.p=='d' && datum.k=='b'"}],"mark":{"type":"line","interpolate":"linear-closed","clip":true,"strokeWidth":1.2},
   "encoding":{"color":{"field":"lv","type":"quantitative","legend":null,"scale":{"domain":[-60,-56,-52,-48,-44,-40,-37,-33,-30,-26,-21,-16,-11,-7,0],"range":["#ffffff","#f6f6ff","#dcdcff","#acacff","#7474ff","#2a2aff","#0000ff","#4a4aa8","#7e7e86","#aaaa5a","#ffff00","#ffa200","#ff3800","#dc0000","#780000"]}},"detail":{"field":"id"},"order":{"field":"i","type":"quantitative"}}},
  {"data":{"name":"ct"},"transform":[{"filter":"datum.p=='d' && datum.k=='e'"}],"mark":{"type":"line","interpolate":"cardinal-closed","clip":true,"strokeWidth":1.2},
   "encoding":{"color":{"field":"lv","type":"quantitative","legend":null,"scale":{"domain":[-60,-56,-52,-48,-44,-40,-37,-33,-30,-26,-21,-16,-11,-7,0],"range":["#ffffff","#f6f6ff","#dcdcff","#acacff","#7474ff","#2a2aff","#0000ff","#4a4aa8","#7e7e86","#aaaa5a","#ffff00","#ffa200","#ff3800","#dc0000","#780000"]}},"detail":{"field":"id"},"order":{"field":"i","type":"quantitative"}}}
 ]},
{"width":18,"height":136,
 "layer":[
  {"data":{"name":"cb"},"mark":{"type":"rect","strokeWidth":0.6},
   "encoding":{"y":{"field":"lo","type":"quantitative","scale":{"domain":[-60,0],"nice":false,"zero":false},"axis":{"orient":"right","values":[0,-20,-40,-60],"grid":false,"title":null,"labelPadding":2}},"y2":{"field":"hi"},
    "color":{"field":"v","type":"quantitative","legend":null,"scale":{"domain":[-60,-56,-52,-48,-44,-40,-37,-33,-30,-26,-21,-16,-11,-7,0],"range":["#ffffff","#f6f6ff","#dcdcff","#acacff","#7474ff","#2a2aff","#0000ff","#4a4aa8","#7e7e86","#aaaa5a","#ffff00","#ffa200","#ff3800","#dc0000","#780000"]}},
    "stroke":{"field":"v","type":"quantitative","legend":null,"scale":{"domain":[-60,-56,-52,-48,-44,-40,-37,-33,-30,-26,-21,-16,-11,-7,0],"range":["#ffffff","#f6f6ff","#dcdcff","#acacff","#7474ff","#2a2aff","#0000ff","#4a4aa8","#7e7e86","#aaaa5a","#ffff00","#ffa200","#ff3800","#dc0000","#780000"]}}}},
  {"data":{"name":"frame"},"mark":{"type":"rect","filled":false,"stroke":"#000","strokeWidth":1},"encoding":{"y":{"field":"lo","type":"quantitative"},"y2":{"field":"hi"}}}
 ]}
]
}
